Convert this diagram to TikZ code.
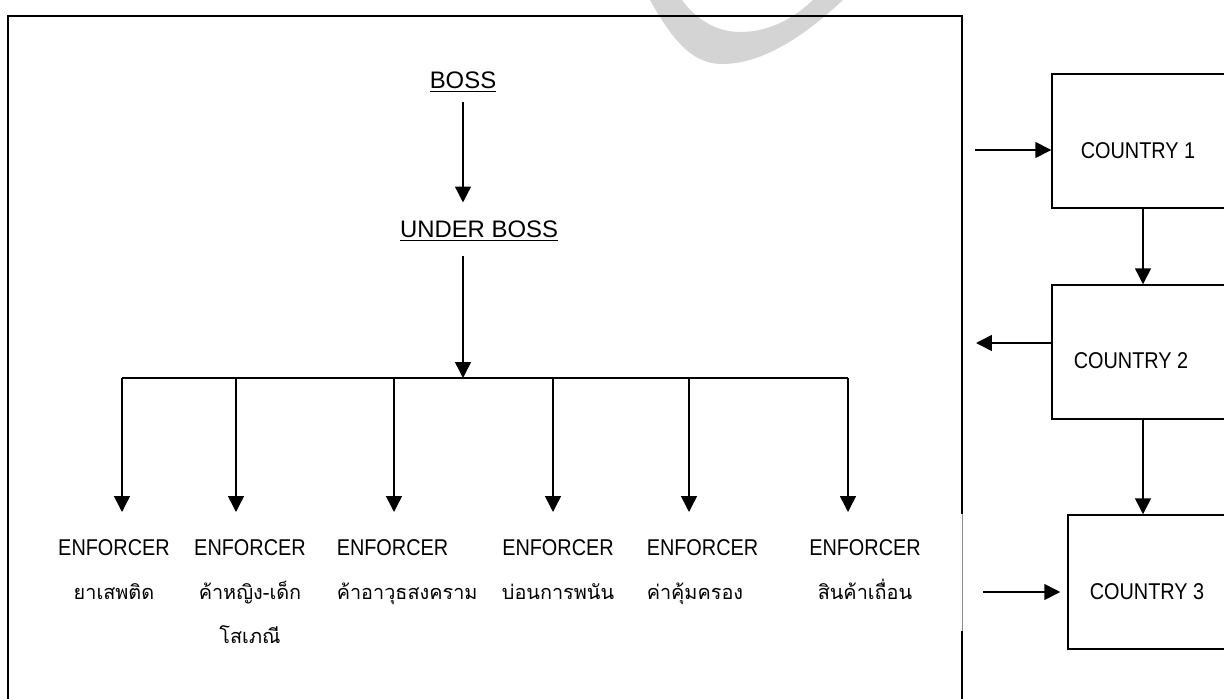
\documentclass[tikz,border=0pt]{standalone}
\usepackage{fontspec}
\setmainfont{Liberation Sans}
\newfontfamily\narrowfont{Liberation Sans}[FakeStretch=0.87]
\newfontfamily\thaifont[Script=Thai]{Loma}
\newcommand{\thaitxt}[1]{{\fontsize{11.3}{25}\thaifont #1}}
\usetikzlibrary{arrows.meta,positioning}

\begin{document}
\begin{tikzpicture}[x=0.02cm,y=-0.02cm,line width=0.85pt,
  arr/.style={-{Triangle[width=9pt,length=9pt]}},
  title/.style={inner sep=0pt, font=\fontsize{13.6}{16}\selectfont},
  enf/.style={inner sep=0pt, align=center, font=\fontsize{13}{25}\narrowfont},
  countrybox/.style={draw, minimum width=3.64cm, minimum height=2.68cm, inner sep=0pt},
  ctext/.style={inner sep=0pt, font=\fontsize{13}{15}\narrowfont}]
\useasboundingbox (0,0) rectangle (1224,699);
\clip (0,0) rectangle (1224,699);

% watermark
\fill[black!17] (650,0) .. controls (675,45) and (695,64) .. (722,64)
  .. controls (760,64) and (800,40) .. (843,0) -- (813,0)
  .. controls (790,22) and (765,32) .. (740,32)
  .. controls (715,32) and (695,18) .. (682,0) -- cycle;

% frame
\draw (962,514) -- (962,16) -- (8,16) -- (8,710);
\draw (962,631) -- (962,710);
\draw[line width=0.3pt, black!45] (962,514) -- (962,631);

% hierarchy
\node[title] (boss) at (463,82) {\underline{BOSS}};
\node[title] (ub) at (479,231) {\underline{UNDER BOSS}};
\draw[arr, shorten <=5pt, shorten >=10pt] (boss.south) -- (boss.south |- ub.north);
\coordinate (bar) at (463,378);
\draw[arr, shorten <=8pt] (bar |- ub.south) -- (bar);
\coordinate (bl) at (122,378);
\coordinate (br) at (848,378);
\draw (bl) -- (br);
\foreach \x in {122,236,394,553,689,848}
  \draw[arr] (\x,378) -- (\x,512);

\node[enf, anchor=north] (e1) at (114,539) {ENFORCER\\\thaitxt{ยาเสพติด}};
\node[enf, anchor=north] (e2) at (250,539) {ENFORCER\\\thaitxt{ค้าหญิง-เด็ก}\\\thaitxt{โสเภณี}};
\node[enf, anchor=north west, align=left] (e3) at (336,539) {ENFORCER\\\thaitxt{ค้าอาวุธสงคราม}};
\node[enf, anchor=north] (e4) at (558,539) {ENFORCER\\\thaitxt{บ่อนการพนัน}};
\node[enf, anchor=north west, align=left] (e5) at (646,539) {ENFORCER\\\thaitxt{ค่าคุ้มครอง}};
\node[enf, anchor=north] (e6) at (865,539) {ENFORCER\\\thaitxt{สินค้าเถื่อน}};

% countries
\node[countrybox] (c1) at (1143,141) {};
\node[countrybox] (c2) at (1143,352) {};
\node[countrybox] (c3) at (1159,582) {};
\node[ctext] (t1) at (1138,151) {COUNTRY 1};
\node[ctext] (t2) at (1131,361) {COUNTRY 2};
\node[ctext] (t3) at (1147,592) {COUNTRY 3};

\coordinate (in1) at (975,150);
\draw[arr] (in1) -- (in1 -| c1.west);
\draw[arr] (c1.south) -- (c2.north);
\coordinate (out2) at (976,343);
\draw[arr] (out2 -| c2.west) -- (out2);
\draw[arr] (c2.south) -- (c2.south |- c3.north);
\coordinate (in3) at (983,592);
\draw[arr, shorten >=4pt] (in3) -- (in3 -| c3.west);
\end{tikzpicture}
\end{document}
